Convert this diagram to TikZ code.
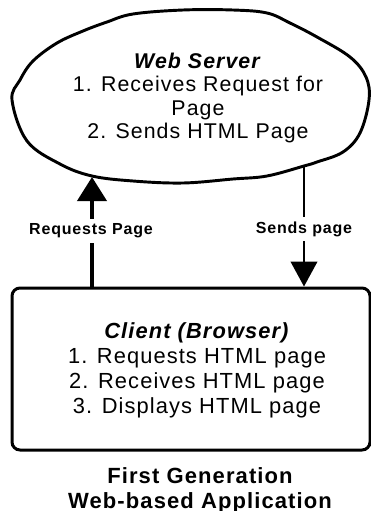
\documentclass[tikz,border=0pt]{standalone}
\usepackage{fontspec}
\setmainfont{Liberation Sans}[LetterSpace=5]
\usetikzlibrary{arrows.meta}

\tikzset{
  outline/.style={line width=2.2pt, line join=round},
  clientbox/.style={draw, line width=2.25pt, rounded corners=6pt,
    minimum width=268.5pt, minimum height=121.5pt, inner sep=0pt},
  bodytext/.style={align=center, inner sep=0pt},
  flowlabel/.style={fill=white, inner xsep=1pt, inner ysep=3.5pt,
    font=\bfseries\fontsize{12}{14}\selectfont},
  reqarrow/.style={line width=3pt, -{Triangle[length=18pt,width=21.75pt]}},
  sendarrow/.style={line width=1.5pt, -{Triangle[length=18.75pt,width=20pt]}}
}

\begin{document}
\begin{tikzpicture}[x=0.75pt, y=-0.75pt]
\useasboundingbox (0,0) rectangle (371,511);

% hand-drawn outline of the server ellipse
\draw[outline] plot[smooth cycle, tension=0.6] coordinates {
  (12,100) (20,80) (33,61) (57,43) (83,31) (107,22) (133,14) (183,10)
  (233,10) (267,13) (290,23) (317,37) (350,57) (366,77) (369,100)
  (360,133) (343,152) (317,162) (304,166) (267,176) (233,179)
  (183,183) (133,181) (92,176) (60,164) (27,141)};
\coordinate (srvin) at (92,177);
\coordinate (srvout) at (304,166);

\node[bodytext, font=\fontsize{16}{17.6}\selectfont] (server) at (198,98)
  {\textbf{\textit{Web Server}}\\1. Receives Request for\\Page\\2. Sends HTML Page};

% client box
\node[clientbox] (client) at (191,369) {};
\node[bodytext, font=\fontsize{16.4}{18.75}\selectfont] (clienttext) at (197,370)
  {\textbf{\textit{Client (Browser)}}\\1. Requests HTML page\\2. Receives HTML page\\3. Displays HTML page};

% request and response
\draw[reqarrow] (client.north -| srvin) -- (srvin);
\draw[sendarrow] (srvout) -- (client.north -| srvout);
\node[flowlabel] (reqlbl) at (91,231) {Requests Page};
\node[flowlabel] (sendlbl) at (304,229) {Sends page};

% caption
\node[bodytext, font=\bfseries\fontsize{16.5}{18.75}\selectfont] (caption) at (200,490)
  {First Generation\\Web-based Application};
\end{tikzpicture}
\end{document}
